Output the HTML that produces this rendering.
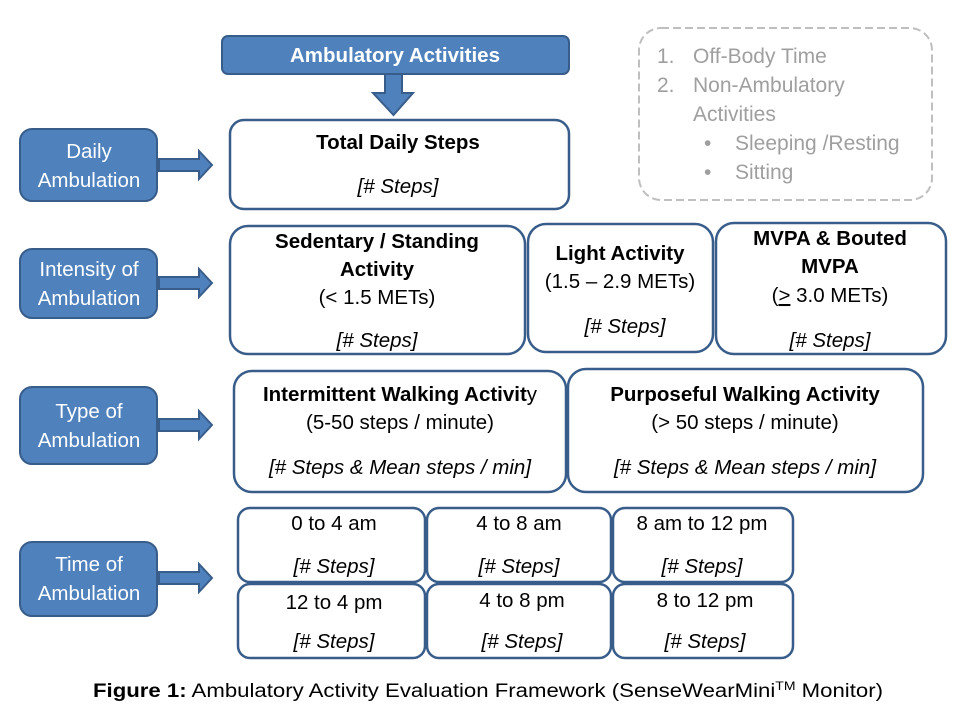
<!DOCTYPE html>
<html><head><meta charset="utf-8"><style>
html,body{margin:0;padding:0;background:#fff;}
svg{display:block;}
text{font-family:"Liberation Sans",sans-serif;font-size:20.5px;fill:#000;}
.b{font-weight:bold;}
.i{font-style:italic;}
.w{fill:#fff;}
.g{fill:#9f9f9f;font-size:21px;}
</style></head><body>
<svg width="960" height="720" viewBox="0 0 960 720" xmlns="http://www.w3.org/2000/svg">
<g fill="#4F81BD" stroke="#385D8A" stroke-width="2">
<rect x="222" y="36" width="347" height="38" rx="6"/>
<rect x="20" y="129" width="137" height="72" rx="12"/>
<rect x="20" y="249" width="137" height="69" rx="12"/>
<rect x="20" y="387" width="137" height="77" rx="12"/>
<rect x="20" y="542" width="137" height="74" rx="12"/>
<path d="M385 74 H402 V93 H413 L393.5 115 L373 93 H385 Z"/>
<path d="M159 159 H199 V151 L212 165 L199 179 V171 H159 Z"/>
<path d="M159 277 H199 V269 L212 283 L199 297 V289 H159 Z"/>
<path d="M159 419 H199 V411 L212 425 L199 439 V431 H159 Z"/>
<path d="M159 572 H199 V564 L212 578 L199 592 V584 H159 Z"/>
</g>
<g fill="#fff" stroke="#385D8A" stroke-width="2.5">
<rect x="230" y="120" width="339" height="89" rx="14"/>
<rect x="230" y="226" width="295" height="128" rx="18"/>
<rect x="528" y="224" width="185" height="128" rx="18"/>
<rect x="716" y="223" width="230" height="131" rx="18"/>
<rect x="234" y="371" width="332" height="121" rx="18"/>
<rect x="568" y="369" width="355" height="123" rx="18"/>
<rect x="238" y="508" width="187" height="74" rx="12"/>
<rect x="427" y="508" width="184" height="74" rx="12"/>
<rect x="613" y="508" width="180" height="74" rx="12"/>
<rect x="238" y="584" width="187" height="74" rx="12"/>
<rect x="427" y="584" width="184" height="74" rx="12"/>
<rect x="613" y="584" width="180" height="74" rx="12"/>
</g>
<rect x="639" y="28" width="293" height="172" rx="22" fill="none" stroke="#BFBFBF" stroke-width="2" stroke-dasharray="8,4"/>
<g text-anchor="middle">
<text x="395" y="62" class="b w">Ambulatory Activities</text>
<text x="89" y="158" class="w">Daily</text>
<text x="89" y="187" class="w">Ambulation</text>
<text x="89" y="276" class="w">Intensity of</text>
<text x="89" y="305" class="w">Ambulation</text>
<text x="89" y="418" class="w">Type of</text>
<text x="89" y="447" class="w">Ambulation</text>
<text x="89" y="571" class="w">Time of</text>
<text x="89" y="600" class="w">Ambulation</text>
<text x="398" y="149" class="b">Total Daily  Steps</text>
<text x="398" y="193" class="i">[# Steps]</text>
<text x="377" y="248" class="b">Sedentary / Standing</text>
<text x="377" y="276" class="b">Activity</text>
<text x="377" y="304" >(&lt; 1.5 METs)</text>
<text x="377" y="347" class="i">[# Steps]</text>
<text x="620" y="260" class="b">Light Activity</text>
<text x="620" y="288">(1.5 – 2.9 METs)</text>
<text x="625" y="333" class="i">[# Steps]</text>
<text x="830" y="245" class="b">MVPA &amp; Bouted</text>
<text x="830" y="273" class="b">MVPA</text>
<text x="830" y="302">(<tspan text-decoration="underline">&gt;</tspan> 3.0 METs)</text>
<text x="830" y="347" class="i">[# Steps]</text>
<text x="400" y="401" class="b">Intermittent Walking Activit<tspan font-weight="normal">y</tspan></text>
<text x="400" y="429">(5-50 steps / minute)</text>
<text x="400" y="474" class="i">[# Steps &amp; Mean steps / min]</text>
<text x="745" y="401" class="b">Purposeful Walking Activity</text>
<text x="745" y="429">(&gt; 50 steps / minute)</text>
<text x="745" y="474" class="i">[# Steps &amp; Mean steps / min]</text>
<text x="334" y="530">0 to 4 am</text>
<text x="334" y="573" class="i">[# Steps]</text>
<text x="519" y="530">4 to 8 am</text>
<text x="519" y="573" class="i">[# Steps]</text>
<text x="702" y="530">8 am to 12 pm</text>
<text x="702" y="573" class="i">[# Steps]</text>
<text x="334" y="609">12 to 4 pm</text>
<text x="334" y="648" class="i">[# Steps]</text>
<text x="522" y="607">4 to 8 pm</text>
<text x="522" y="648" class="i">[# Steps]</text>
<text x="705" y="607">8 to 12 pm</text>
<text x="705" y="648" class="i">[# Steps]</text>
</g>
<text x="93" y="697" style="font-size:19px" textLength="790" lengthAdjust="spacingAndGlyphs"><tspan font-weight="bold">Figure 1:</tspan> Ambulatory Activity Evaluation Framework (SenseWearMini<tspan dy="-7" style="font-size:12px">TM</tspan><tspan dy="7"> Monitor)</tspan></text>
<text x="657" y="63" class="g">1.</text>
<text x="693" y="63" class="g">Off-Body Time</text>
<text x="657" y="92" class="g">2.</text>
<text x="693" y="92" class="g">Non-Ambulatory</text>
<text x="693" y="121" class="g">Activities</text>
<text x="704" y="150" class="g">•</text>
<text x="735" y="150" class="g">Sleeping /Resting</text>
<text x="704" y="179" class="g">•</text>
<text x="735" y="179" class="g">Sitting</text>
</svg>
</body></html>
